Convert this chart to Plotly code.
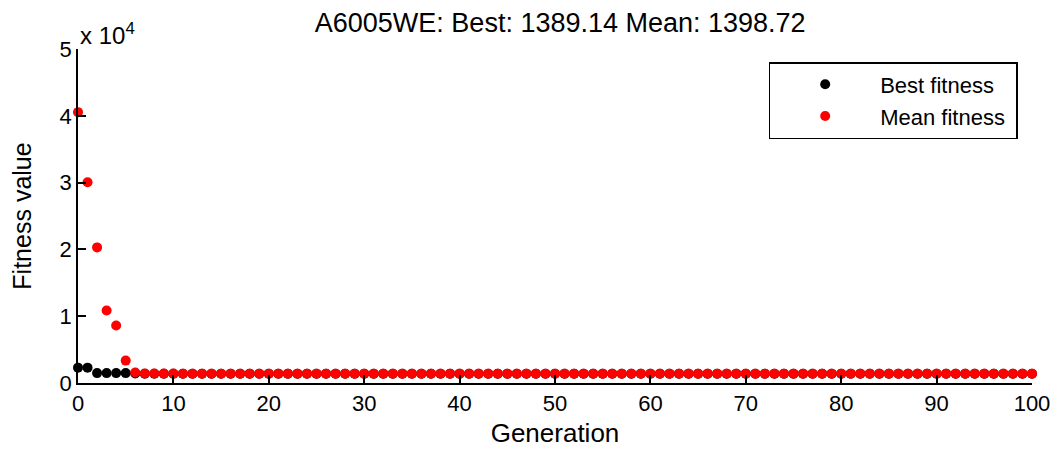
import plotly.graph_objects as go

# Generation index and per-generation fitness statistics
generations = list(range(101))

best_fitness = [
    2300, 2300, 1480, 1480, 1480, 1480, 1410, 1398, 1395, 1393,
    1392, 1391, 1390.5, 1390.2, 1390, 1389.8, 1389.6, 1389.5, 1389.4, 1389.3,
    1389.3, 1389.2, 1389.2, 1389.2, 1389.2, 1389.14, 1389.14, 1389.14, 1389.14, 1389.14,
    1389.14, 1389.14, 1389.14, 1389.14, 1389.14, 1389.14, 1389.14, 1389.14, 1389.14, 1389.14,
    1389.14, 1389.14, 1389.14, 1389.14, 1389.14, 1389.14, 1389.14, 1389.14, 1389.14, 1389.14,
    1389.14, 1389.14, 1389.14, 1389.14, 1389.14, 1389.14, 1389.14, 1389.14, 1389.14, 1389.14,
    1389.14, 1389.14, 1389.14, 1389.14, 1389.14, 1389.14, 1389.14, 1389.14, 1389.14, 1389.14,
    1389.14, 1389.14, 1389.14, 1389.14, 1389.14, 1389.14, 1389.14, 1389.14, 1389.14, 1389.14,
    1389.14, 1389.14, 1389.14, 1389.14, 1389.14, 1389.14, 1389.14, 1389.14, 1389.14, 1389.14,
    1389.14, 1389.14, 1389.14, 1389.14, 1389.14, 1389.14, 1389.14, 1389.14, 1389.14, 1389.14,
    1389.14,
]

mean_fitness = [
    40550, 30050, 20300, 10850, 8600, 3350, 1560, 1430, 1415, 1408,
    1404, 1402, 1401, 1400.5, 1400, 1399.6, 1399.4, 1399.2, 1399.1, 1399,
    1398.9, 1398.9, 1398.8, 1398.8, 1398.8, 1398.72, 1398.72, 1398.72, 1398.72, 1398.72,
    1398.72, 1398.72, 1398.72, 1398.72, 1398.72, 1398.72, 1398.72, 1398.72, 1398.72, 1398.72,
    1398.72, 1398.72, 1398.72, 1398.72, 1398.72, 1398.72, 1398.72, 1398.72, 1398.72, 1398.72,
    1398.72, 1398.72, 1398.72, 1398.72, 1398.72, 1398.72, 1398.72, 1398.72, 1398.72, 1398.72,
    1398.72, 1398.72, 1398.72, 1398.72, 1398.72, 1398.72, 1398.72, 1398.72, 1398.72, 1398.72,
    1398.72, 1398.72, 1398.72, 1398.72, 1398.72, 1398.72, 1398.72, 1398.72, 1398.72, 1398.72,
    1398.72, 1398.72, 1398.72, 1398.72, 1398.72, 1398.72, 1398.72, 1398.72, 1398.72, 1398.72,
    1398.72, 1398.72, 1398.72, 1398.72, 1398.72, 1398.72, 1398.72, 1398.72, 1398.72, 1398.72,
    1398.72,
]

x_ticks = [0, 10, 20, 30, 40, 50, 60, 70, 80, 90, 100]
y_ticks = [0, 10000, 20000, 30000, 40000, 50000]
y_tick_text = ["0", "1", "2", "3", "4", "5"]

FONT = "Liberation Sans, Arial, sans-serif"

fig = go.Figure()
fig.add_trace(go.Scatter(
    x=generations, y=best_fitness, mode="markers", name="Best fitness\u00a0",
    marker=dict(color="black", size=10), cliponaxis=False,
    legendgroup="best",
))
fig.add_trace(go.Scatter(
    x=generations, y=mean_fitness, mode="markers", name="Mean fitness\u00a0",
    marker=dict(color="#ff0000", size=10), cliponaxis=False,
    legendgroup="mean",
))

axis_common = dict(
    showline=True, linecolor="black", linewidth=1.5,
    ticks="inside", ticklen=8, tickwidth=1.5, tickcolor="black",
    showgrid=False, zeroline=False, mirror=False,
    tickfont=dict(family=FONT, size=22, color="black"),
)

fig.update_layout(
    width=1061, height=454,
    margin=dict(l=78, r=29, t=49, b=71),
    paper_bgcolor="white", plot_bgcolor="white",
    font=dict(family=FONT, color="black"),
    title=dict(
        text="A6005WE: Best: 1389.14 Mean: 1398.72",
        x=0.528, xanchor="center", y=0.95, yanchor="middle",
        font=dict(family=FONT, size=27, color="black"),
    ),
    xaxis=dict(
        range=[0, 100], tickvals=x_ticks,
        title=dict(text="Generation", font=dict(family=FONT, size=26), standoff=9),
        **axis_common,
    ),
    yaxis=dict(
        range=[0, 50000], tickvals=y_ticks, ticktext=y_tick_text,
        title=dict(text="Fitness value", font=dict(family=FONT, size=25), standoff=21),
        **axis_common,
    ),
    legend=dict(
        x=0.985, xanchor="right", y=0.961, yanchor="top",
        bordercolor="black", borderwidth=1.5, bgcolor="white",
        font=dict(family=FONT, size=22, color="black"),
        itemwidth=100, tracegroupgap=0,
    ),
    showlegend=True,
    annotations=[dict(
        text="x 10<sup>4</sup>", xref="paper", yref="paper",
        x=0, y=1, xanchor="left", yanchor="bottom", xshift=0, yshift=-2,
        showarrow=False, font=dict(family=FONT, size=24, color="black"),
    )],
)

fig.write_html("out.html")
